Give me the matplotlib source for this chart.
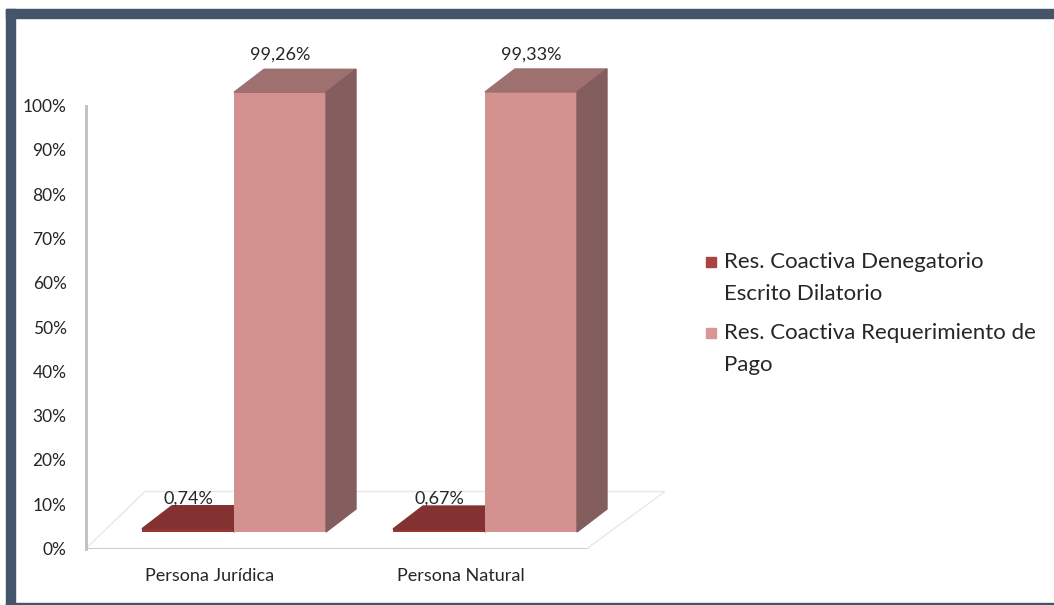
import matplotlib.pyplot as plt
from matplotlib.patches import Polygon, Rectangle

plt.rcParams['font.family'] = ['Lato', 'DejaVu Sans']

# datos
categorias = ['Persona Jurídica', 'Persona Natural']
series = ['Res. Coactiva Denegatorio\nEscrito Dilatorio',
          'Res. Coactiva Requerimiento de\nPago']
denegatorio = [0.74, 0.67]
requerimiento = [99.26, 99.33]
etiquetas = [['0,74%', '0,67%'], ['99,26%', '99,33%']]

# colores: frente, tapa, lado
colores = [('#953735', '#843131', '#6e2a2a'),
           ('#d39190', '#9e7070', '#845e5e')]

W, H = 1054, 605
fig = plt.figure(figsize=(W / 100, H / 100), dpi=100)

# marco oscuro
marco = '#44546a'
fig.patches.append(Rectangle((6 / W, 1 - 18 / H), 1 - 6 / W, 9 / H, transform=fig.transFigure,
                             color=marco, zorder=0))
fig.patches.append(Rectangle((6 / W, 0), 9 / W, 1 - 9 / H, transform=fig.transFigure,
                             color=marco, zorder=0))
fig.patches.append(Rectangle((6 / W, 0), 1 - 6 / W, 2.5 / H, transform=fig.transFigure,
                             color=marco, zorder=0))

# ejes: 0% en y=548.5 px, 4.43 px por punto
ppu = 4.43
ytop = 112
y0 = 548.5
ax = fig.add_axes([86 / W, (H - y0) / H, 579 / W, ytop * ppu / H])
ax.set_ylim(0, ytop)
cat_px, sep_px = 210, 251
ax.set_xlim((86 - cat_px) / sep_px, (665 - cat_px) / sep_px)

for s in ['top', 'right', 'bottom']:
    ax.spines[s].set_visible(False)
ax.spines['left'].set_bounds(0, 100)
ax.spines['left'].set_color('#bfbfbf')
ax.spines['left'].set_linewidth(2)
ax.set_yticks(range(0, 101, 10))
ax.set_yticklabels([f'{v}%' for v in range(0, 101, 10)], fontsize=12.5, color='#262626')
ax.set_xticks(range(len(categorias)))
ax.set_xticklabels(categorias, fontsize=13, color='#262626')
ax.tick_params(axis='y', length=0, pad=14)
ax.tick_params(axis='x', length=0, pad=14)

# piso
px = lambda p: (p - cat_px) / sep_px
fd = 57 / ppu
ax.plot([px(86), px(587)], [0, 0], color='#c8c8c8', lw=2, zorder=1)
ax.plot([px(86), px(145), px(665), px(587)], [0, fd, fd, 0], color='#e8e8e8', lw=1, zorder=1)

# barras 3d
w = 92 / sep_px
desp = 24 / sep_px
base = (y0 - 532) / ppu
dx, dy = 30 / sep_px, 23 / ppu

for i in range(len(categorias)):
    for k, vals in enumerate([denegatorio, requerimiento]):
        v = vals[i]
        xc = i + desp + (k - 0.5) * w
        x0, x1 = xc - w / 2, xc + w / 2
        fr, tp, sd = colores[k]
        z = 2 + i * 3 + k
        ax.bar(xc, v, w, bottom=base, color=fr, zorder=z)
        top = base + v
        ax.add_patch(Polygon([(x0, top), (x1, top), (x1 + dx, top + dy), (x0 + dx, top + dy)],
                             closed=True, color=tp, zorder=z))
        ax.add_patch(Polygon([(x1, base), (x1 + dx, base + dy), (x1 + dx, top + dy), (x1, top)],
                             closed=True, color=sd, zorder=z))
        ax.text(xc, top + dy + (3.3 if k else 1.6), etiquetas[k][i], ha='center', va='center',
                fontsize=13, color='#262626', zorder=10)

# leyenda
swatch = ['#a94444', '#d99694']
ley_y = [262, 333]
for k in range(len(series)):
    fig.patches.append(Rectangle((706 / W, 1 - (ley_y[k] + 5) / H), 10 / W, 10 / H,
                                 transform=fig.transFigure, color=swatch[k]))
    fig.text(724 / W, 1 - (ley_y[k] - 10) / H, series[k], fontsize=16, color='#262626',
             va='top', ha='left', linespacing=1.78)

fig.savefig('out.png', dpi=100)
